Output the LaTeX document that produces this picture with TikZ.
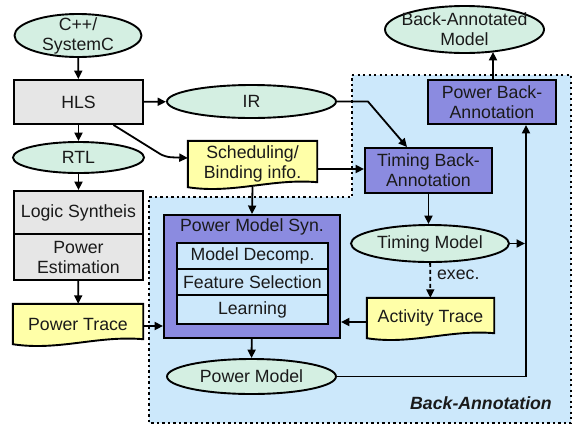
\documentclass[tikz,border=0pt]{standalone}
\usepackage{fontspec}
\setmainfont{Liberation Sans}
\usetikzlibrary{shapes.geometric,arrows.meta,calc,backgrounds}
\definecolor{mint}{HTML}{D4EFE2}
\definecolor{boxgray}{HTML}{E6E6E6}
\definecolor{purp}{HTML}{8B8BE0}
\definecolor{bgblue}{HTML}{CCE8FB}
\definecolor{docyellow}{HTML}{FFFFA8}
\definecolor{txt}{HTML}{1A1A1A}
\tikzset{
 base/.style={line width=1.9pt, draw=black, inner sep=0pt, align=center, text=txt},
 ell/.style={base, ellipse, fill=mint},
 graybox/.style={base, rectangle, fill=boxgray},
 purpbox/.style={base, rectangle, fill=purp},
 innerbox/.style={base, rectangle, fill=bgblue},
 docn/.style={rectangle, inner sep=0pt, align=center, text=txt},
 docshape/.style={line width=1.9pt, draw=black, fill=docyellow},
 arr/.style={line width=1.8pt, -{Triangle[length=8.5pt,width=8pt]}},
 lab/.style={align=center, inner sep=0pt, text=txt},
 dotb/.style={line width=1.8pt, dash pattern=on 2.2pt off 3.3pt},
}
\begin{document}
\begin{tikzpicture}[x=1pt,y=-1pt, font=\fontsize{17.7}{20}\selectfont]
\useasboundingbox (0,0) rectangle (580,429);

% Back-annotation region
\begin{scope}[on background layer]
\fill[white] (0,0) rectangle (580,429);
\fill[bgblue] (352,75) -- (571,75) -- (571,423) -- (149,423) -- (149,197) -- (352,197) -- cycle;
\draw[dotb] (352,75) -- (571,75) -- (571,423) -- (149,423) -- (149,197) -- (352,197) -- cycle;
\end{scope}

% left flow
\node[ell, minimum width=127pt, minimum height=43pt] (cpp) at (78,35.5) {};
\node[lab] (cppt) at (cpp) {C++/\\SystemC};
\node[graybox, minimum width=129pt, minimum height=44pt] (hls) at (78.5,102) {HLS};
\node[ell, minimum width=131pt, minimum height=31pt] (rtl) at (78.5,157.5) {};
\node[lab] (rtlt) at (rtl) {RTL};
\node[graybox, minimum width=129pt, minimum height=43pt] (logic) at (78.5,212.5) {Logic Syntheis};
\node[graybox, minimum width=129pt, minimum height=46pt] (pest) at (78.5,257) {Power\\Estimation};
\node[docn, minimum width=130pt, minimum height=40pt] (ptrace) at (78,324) {Power Trace};

% middle
\node[ell, minimum width=169pt, minimum height=33pt] (ir) at (251.5,101.5) {};
\node[lab] (irt) at (ir) {IR};
\node[docn, minimum width=129pt, minimum height=46pt] (sched) at (252.5,164) {Scheduling/\\Binding info.};

% power model syn
\node[purpbox, minimum width=176pt, minimum height=123pt] (pms) at (252,276.5) {};
\node[lab, anchor=base] (pmst) at (252,231) {Power Model Syn.};
\node[innerbox, minimum width=151pt, minimum height=26pt] (md) at (252.5,256) {Model Decomp.};
\node[innerbox, minimum width=151pt, minimum height=26pt] (fs) at (252.5,282) {Feature Selection};
\node[innerbox, minimum width=151pt, minimum height=29pt] (learn) at (252.5,309.5) {Learning};
\node[ell, minimum width=169pt, minimum height=35pt] (pm) at (251.5,376.5) {};
\node[lab] (pmt) at (pm) {Power Model};

% right
\node[ell, minimum width=159pt, minimum height=47pt] (bam) at (464.5,29.5) {};
\node[lab] (bamt) at (bam) {Back-Annotated\\Model};
\node[purpbox, minimum width=128pt, minimum height=44pt] (pba) at (492,102) {Power Back-\\Annotation};
\node[purpbox, minimum width=127pt, minimum height=45pt] (tba) at (428.5,170.5) {Timing Back-\\Annotation};
\node[ell, minimum width=158pt, minimum height=37pt] (tm) at (430,243.5) {};
\node[lab] (tmt) at (tm) {Timing Model};
\node[docn, minimum width=127pt, minimum height=40pt] (at) at (430.5,318) {Activity Trace};
\node[lab, anchor=east] (balab) at (552,403) {\bfseries\itshape Back-Annotation};

% document shapes
\begin{scope}[on background layer]
\foreach \n in {ptrace,sched,at}{
 \path[docshape] (\n.north west) -- (\n.north east) -- ([yshift=5pt]\n.south east)
  .. controls ($(\n.south west)!0.65!(\n.south east)+(0,9pt)$) and ($(\n.south west)!0.35!(\n.south east)+(0,-7pt)$) .. (\n.south west) -- cycle;
}
\end{scope}

% connectors
\draw[arr] (cpp) -- (hls);
\draw[arr] (hls) -- (ir);
\draw[arr] (hls) -- (rtl);
\draw[arr] (rtl) -- (logic);
\draw[arr] (pest) -- (ptrace);
\draw[arr, rounded corners=6pt] ([xshift=35pt]hls.south) -- (165,157) -- ([yshift=6pt]sched.west);
\draw[arr] (ir.east) -- ++(31,0) -- ([xshift=-21.5pt]tba.north);
\coordinate (s1) at ([yshift=-5pt]sched.east);
\draw[arr] (s1) -- (s1 -| tba.west);
\draw[arr] (sched.south) -- (pms.north);
\draw[arr] (tba.south) -- (tba.south |- tm.north);
\coordinate (j) at (526,243.5);
\draw[arr, shorten >=1pt] (tm.east) -- (j);
\coordinate (pbain) at ([xshift=34pt]pba.south);
\draw[arr] (pm.east) -| (pbain);
\draw[arr, dash pattern=on 4pt off 3pt] (tm) -- node[pos=0.35, right=6pt, lab] (execl) {exec.} (at);
\coordinate (a1) at ([yshift=-4pt]at.west);
\draw[arr] (a1) -- (a1 -| pms.east);
\coordinate (p1) at ([yshift=-2pt]ptrace.east);
\draw[arr] (p1) -- (p1 -| pms.west);
\draw[arr] (pms) -- (pm);
\coordinate (b1) at ([xshift=1pt]pba.north);
\draw[arr] (b1) -- ($(b1 |- bam.south)+(0,2pt)$);
\end{tikzpicture}
\end{document}
